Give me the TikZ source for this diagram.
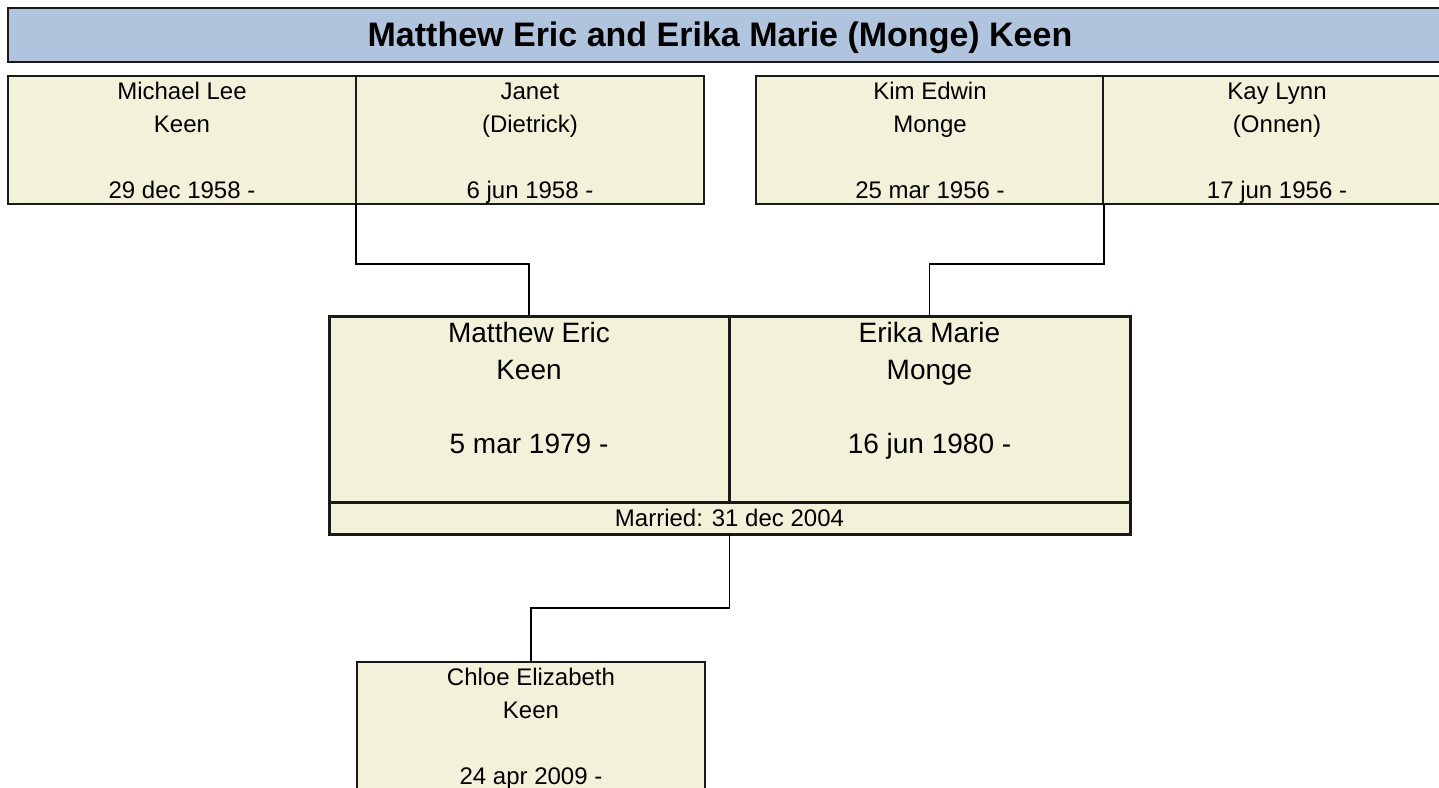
\documentclass[tikz,border=0pt]{standalone}
\usepackage{fontspec}
\setmainfont{Liberation Sans}
\definecolor{boxfill}{HTML}{F2F2DA}
\definecolor{titlefill}{HTML}{B0C4DE}
\definecolor{edge}{HTML}{1A1A1A}
\newcommand{\toprl}{\rule{0pt}{23.2pt}}
\newcommand{\botrl}{\rule[-5.6pt]{0pt}{5.6pt}}
\begin{document}
\begin{tikzpicture}[x=1pt,y=-1pt,
  every node/.style={outer sep=0pt, inner sep=0pt},
  pbox/.style={draw=edge, line width=1.5pt, fill=boxfill, minimum width=348pt, minimum height=128pt,
    anchor=north west, align=center, font=\fontsize{24}{33}\selectfont},
  cbox/.style={draw=edge, line width=3pt, fill=boxfill, minimum height=186pt, anchor=north west},
  ctxt/.style={anchor=north, align=center, font=\fontsize{28}{37}\selectfont},
  mbox/.style={draw=edge, line width=3pt, fill=boxfill, minimum width=801pt, minimum height=32pt,
    anchor=north west, font=\fontsize{24}{28}\selectfont},
  tbox/.style={draw=edge, line width=2.5pt, fill=titlefill, minimum width=1440pt, minimum height=54pt,
    anchor=north west},
  conn/.style={draw=black, line width=1.5pt}
]
\useasboundingbox (0,0) rectangle (1439,787);
\clip (0,0) rectangle (1439,787);

\node[tbox] (title) at (8,8) {};
\node[anchor=base, font=\fontsize{34}{40}\selectfont\bfseries] (titletext) at (720,46.5) {Matthew Eric and Erika Marie (Monge) Keen};

\node[pbox] (mlk) at (8,76) {\toprl Michael Lee\\Keen\\\mbox{}\\29 dec 1958 -\botrl};
\node[pbox] (jan) at (356,76) {\toprl Janet\\(Dietrick)\\\mbox{}\\6 jun 1958 -\botrl};
\node[pbox] (kem) at (756,76) {\toprl Kim Edwin\\Monge\\\mbox{}\\25 mar 1956 -\botrl};
\node[pbox] (kay) at (1103,76) {\toprl Kay Lynn\\(Onnen)\\\mbox{}\\17 jun 1956 -\botrl};

\node[cbox, minimum width=400pt] (me) at (329,316) {};
\node[cbox, minimum width=401pt] (ek) at (729,316) {};
\node[mbox] (mar) at (329,502) {Married: 31 dec 2004};
\node[ctxt] (me-t) at ([yshift=-6.5pt]me.north) {Matthew Eric\\Keen\\\mbox{}\\5 mar 1979 -};
\node[ctxt] (ek-t) at ([yshift=-6.5pt]ek.north) {Erika Marie\\Monge\\\mbox{}\\16 jun 1980 -};

\node[pbox, minimum height=128pt] (chl) at (357,662) {\toprl Chloe Elizabeth\\Keen\\\mbox{}\\24 apr 2009 -\botrl};

\draw[conn] (mlk.south east) -- ++(0,60) -| (me.north);
\draw[conn] (kem.south east) -- ++(0,60) -| (ek.north);
\draw[conn] (mar.south) -- ++(0,74) -| (chl.north);
\end{tikzpicture}
\end{document}
